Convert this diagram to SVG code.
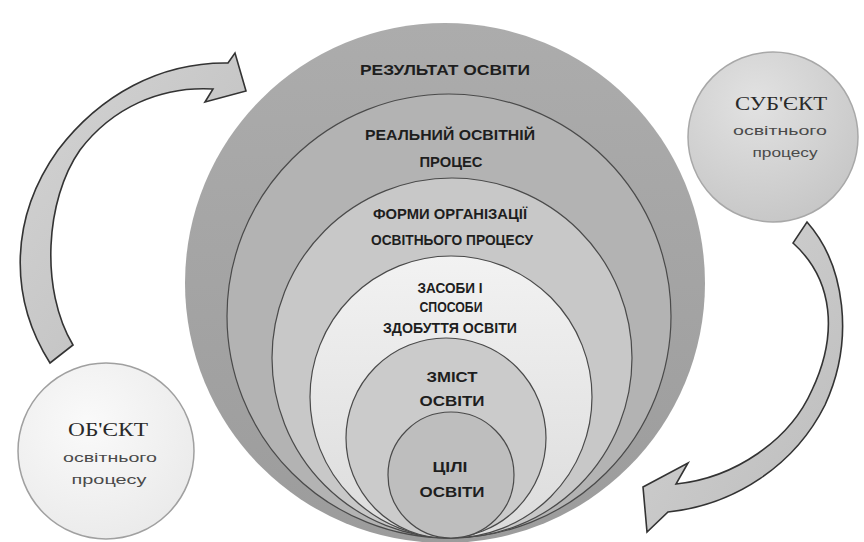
<svg xmlns="http://www.w3.org/2000/svg" width="864" height="542" viewBox="0 0 864 542">
  <defs>
    <linearGradient id="gArrow" x1="0" y1="0" x2="1" y2="1">
      <stop offset="0" stop-color="#d4d4d4"/>
      <stop offset="1" stop-color="#bcbcbc"/>
    </linearGradient>
    <radialGradient id="gSub" cx="0.4" cy="0.3" r="0.8">
      <stop offset="0" stop-color="#e2e2e2"/>
      <stop offset="1" stop-color="#c4c4c4"/>
    </radialGradient>
    <radialGradient id="gObj" cx="0.4" cy="0.35" r="0.8">
      <stop offset="0" stop-color="#fafafa"/>
      <stop offset="1" stop-color="#e8e8e8"/>
    </radialGradient>
    <linearGradient id="gC1" x1="0" y1="0" x2="0" y2="1">
      <stop offset="0" stop-color="#acacac"/>
      <stop offset="1" stop-color="#9c9c9c"/>
    </linearGradient>
    <linearGradient id="gC4" x1="0" y1="0" x2="0" y2="1">
      <stop offset="0" stop-color="#f2f2f2"/>
      <stop offset="1" stop-color="#dcdcdc"/>
    </linearGradient>
  </defs>
  <style>
    .ring { stroke: #4a4a4a; stroke-width: 1.2; }
    .lbl { font-family: "Liberation Sans", Arial, sans-serif; font-weight: bold; font-size: 14px; fill: #1e1e1e; text-anchor: middle; }
    .ttl { font-family: "Liberation Serif", "Times New Roman", serif; font-size: 19px; fill: #2a2a2a; text-anchor: middle; }
    .sub { font-family: "Liberation Sans", Arial, sans-serif; font-size: 13px; fill: #4a4a4a; text-anchor: middle; }
    .arrow { fill: url(#gArrow); stroke: #333333; stroke-width: 1.6; stroke-linejoin: miter; }
  </style>
  <rect width="864" height="542" fill="#ffffff"/>

  <g id="connectors">
    <path class="arrow" d="M 50 363 C 10 300, 8 220, 58 150 C 100 95, 160 62, 228 63 L 235 53 L 246 91 L 205 102 L 213 89 C 160 86, 112 108, 80 150 C 45 200, 40 290, 73 345 Z"/>
    <path class="arrow" d="M 807 222 C 845 265, 855 340, 825 405 C 795 465, 735 505, 668 512 L 647 532 L 643 487 L 688 463 L 676 484 C 735 478, 790 440, 812 390 C 838 335, 834 280, 793 243 Z"/>
  </g>

  <g id="result">
    <circle cx="445" cy="283" r="260" fill="url(#gC1)"/>
    <text class="lbl" x="445" y="75" textLength="170" lengthAdjust="spacingAndGlyphs">РЕЗУЛЬТАТ ОСВІТИ</text>
  </g>
  <g id="real-process">
    <circle class="ring" cx="449" cy="316" r="222" fill="#b3b3b3"/>
    <text class="lbl" x="450" y="140" textLength="170" lengthAdjust="spacingAndGlyphs">РЕАЛЬНИЙ ОСВІТНІЙ</text>
    <text class="lbl" x="451" y="167" textLength="63" lengthAdjust="spacingAndGlyphs">ПРОЦЕС</text>
  </g>
  <g id="forms">
    <circle class="ring" cx="452" cy="358" r="180" fill="#c8c8c8"/>
    <text class="lbl" x="450" y="219" textLength="154" lengthAdjust="spacingAndGlyphs">ФОРМИ ОРГАНІЗАЦІЇ</text>
    <text class="lbl" x="452" y="245" textLength="162" lengthAdjust="spacingAndGlyphs">ОСВІТНЬОГО ПРОЦЕСУ</text>
  </g>
  <g id="means">
    <circle class="ring" cx="451" cy="397" r="141" fill="url(#gC4)"/>
    <text class="lbl" x="450" y="293" textLength="65" lengthAdjust="spacingAndGlyphs">ЗАСОБИ І</text>
    <text class="lbl" x="451" y="312" textLength="63" lengthAdjust="spacingAndGlyphs">СПОСОБИ</text>
    <text class="lbl" x="450" y="333" textLength="134" lengthAdjust="spacingAndGlyphs">ЗДОБУТТЯ ОСВІТИ</text>
  </g>
  <g id="content">
    <circle class="ring" cx="446" cy="438" r="100" fill="#cbcbcb"/>
    <text class="lbl" x="452" y="382" textLength="51" lengthAdjust="spacingAndGlyphs">ЗМІСТ</text>
    <text class="lbl" x="452" y="406" textLength="65" lengthAdjust="spacingAndGlyphs">ОСВІТИ</text>
  </g>
  <g id="goals">
    <circle class="ring" cx="451" cy="475" r="63" fill="#bebebe"/>
    <text class="lbl" x="450" y="472" textLength="35" lengthAdjust="spacingAndGlyphs">ЦІЛІ</text>
    <text class="lbl" x="452" y="497" textLength="65" lengthAdjust="spacingAndGlyphs">ОСВІТИ</text>
  </g>

  <g id="subject">
    <circle cx="773" cy="137" r="85" fill="url(#gSub)" stroke="#a8a8a8" stroke-width="1.5"/>
    <text class="ttl" x="781" y="110" textLength="92" lengthAdjust="spacingAndGlyphs">СУБ'ЄКТ</text>
    <text class="sub" x="780" y="135" textLength="94" lengthAdjust="spacingAndGlyphs">освітнього</text>
    <text class="sub" x="785" y="157" textLength="65" lengthAdjust="spacingAndGlyphs">процесу</text>
  </g>
  <g id="object">
    <circle cx="106" cy="451" r="88" fill="url(#gObj)" stroke="#a0a0a0" stroke-width="1.5"/>
    <text class="ttl" x="108" y="436" textLength="80" lengthAdjust="spacingAndGlyphs">ОБ'ЄКТ</text>
    <text class="sub" x="110" y="462" textLength="94" lengthAdjust="spacingAndGlyphs">освітнього</text>
    <text class="sub" x="109" y="484" textLength="75" lengthAdjust="spacingAndGlyphs">процесу</text>
  </g>
</svg>
